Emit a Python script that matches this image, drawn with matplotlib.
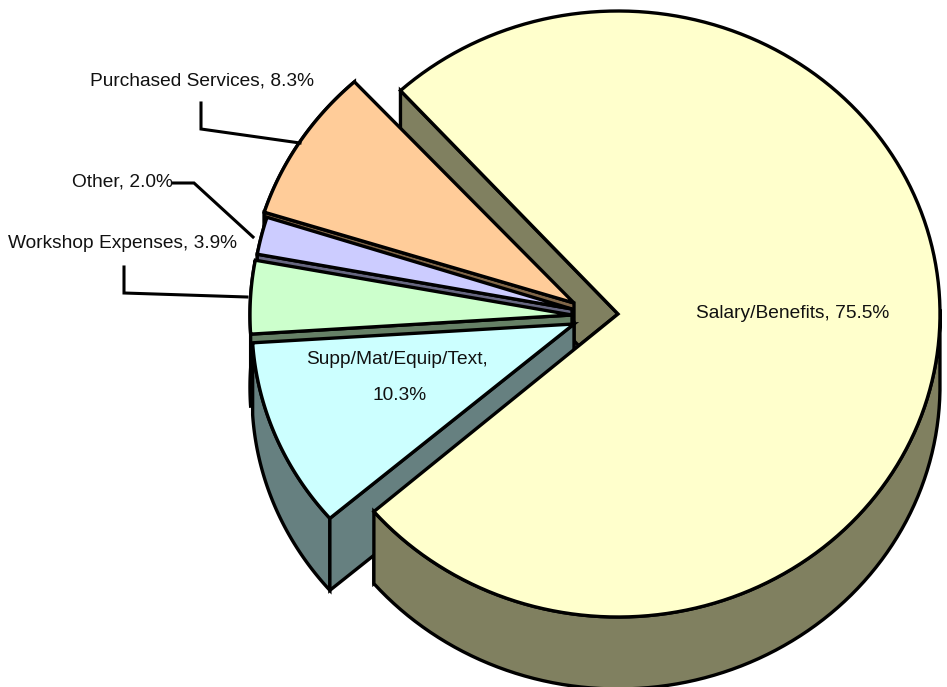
import numpy as np
import matplotlib
matplotlib.use("Agg")
import matplotlib.pyplot as plt
from matplotlib.patches import Polygon

# Data
categories = ["Salary/Benefits", "Supp/Mat/Equip/Text", "Workshop Expenses", "Other", "Purchased Services"]
values = [75.5, 10.3, 3.9, 2.0, 8.3]
top_colors = ["#FFFFCC", "#CCFFFF", "#CCFFCC", "#CCCCFF", "#FFCC99"]
side_colors = ["#808060", "#668080", "#668066", "#666680", "#806648"]

# Layout (pixels)
W, H = 947, 687
apexes = [(618, 314), (574, 324), (572, 315), (572, 309), (574, 303)]
radii = [(322, 303), (322, 298), (322, 303), (320, 303), (325, 300)]
depth = 72
start_angle = 132.5
LW = 2.4

plt.rcParams["font.family"] = ["Liberation Sans", "DejaVu Sans"]
fig = plt.figure(figsize=(W / 100, H / 100), dpi=100)
ax = fig.add_axes([0, 0, 1, 1])
ax.set_xlim(0, W)
ax.set_ylim(H, 0)
ax.axis("off")

# angular ranges (clockwise from the start angle)
spans = [v / sum(values) * 360 for v in values]
ranges = []
a = start_angle
for s in spans:
    ranges.append((a, a - s))
    a -= s


def arc(i, n=160):
    a0, a1 = ranges[i]
    t = np.radians(np.linspace(a0, a1, n))
    cx, cy = apexes[i]
    rx, ry = radii[i]
    return np.c_[cx + rx * np.cos(t), cy - ry * np.sin(t)]


def poly(pts, color, z, lw=LW):
    ax.add_patch(Polygon(pts, closed=True, facecolor=color, edgecolor="black",
                         linewidth=lw, joinstyle="miter", zorder=z))


d = np.array([0, depth])
apex0 = np.array(apexes[0])
yarc = arc(0)
# inner cut faces of the large slice
poly([yarc[0], apex0, apex0 + d, yarc[0] + d], side_colors[0], 1)
poly([yarc[-1], apex0, apex0 + d, yarc[-1] + d], side_colors[0], 1)

# exploded slices, back to front
z = 2
for i in [4, 3, 2, 1]:
    pts = arc(i)
    apex = np.array(apexes[i])
    poly(np.vstack([pts, pts[::-1] + d]), side_colors[i], z)
    poly(np.vstack([pts[0], apex, apex + d, pts[0] + d]), side_colors[i], z)
    poly(np.vstack([apex, pts]), top_colors[i], z + 0.5)
    z += 1

# rim and top of the large slice
mask = (yarc[:, 1] > apex0[1] - 10)
rim = yarc[mask]
poly(np.vstack([rim, rim[::-1] + d]), side_colors[0], 8)
poly(np.vstack([apex0, yarc]), top_colors[0], 9)

# leader lines
leaders = [
    ([201, 201, 300], [103, 129, 143]),
    ([173, 194, 253], [183, 183, 237]),
    ([124, 124, 247], [267, 293, 297]),
]
for xs, ys in leaders:
    ax.plot(xs, ys, color="black", lw=2.2, solid_joinstyle="miter", zorder=10)

# labels
FS = 13.8
labels = [
    (f"{categories[4]}, {values[4]}%", 202, 81),
    (f"{categories[3]}, {values[3]:.1f}%", 122, 182),
    (f"{categories[2]}, {values[2]}%", 123, 244),
    (f"{categories[1]},", 397, 360),
    (f"{values[1]}%", 400, 396),
    (f"{categories[0]}, {values[0]}%", 793, 313),
]
for s, x, y in labels:
    ax.text(x, y, s, ha="center", va="center", fontsize=FS, color="#111111", zorder=11)

fig.savefig("out.png", dpi=100)
